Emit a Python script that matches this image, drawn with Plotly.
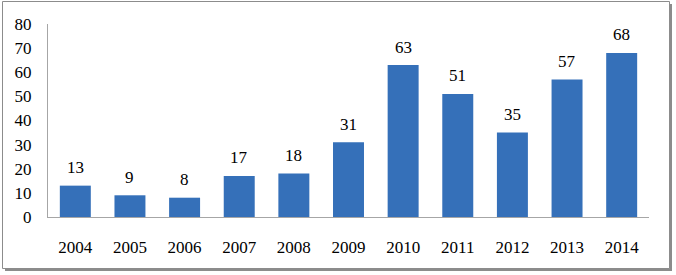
import plotly.graph_objects as go

years = ["2004", "2005", "2006", "2007", "2008", "2009", "2010", "2011", "2012", "2013", "2014"]
counts = [13, 9, 8, 17, 18, 31, 63, 51, 35, 57, 68]
y_ticks = [0, 10, 20, 30, 40, 50, 60, 70, 80]

W, H = 676, 275
ML, MR, MT, MB = 48, 27, 24, 58
PW, PH = W - ML - MR, H - MT - MB

def px(x):
    return (x - ML) / PW

def py(y):
    return (H - MB - y) / PH

FONT = dict(family="Liberation Serif, Times New Roman, serif", size=17, color="#000000")

fig = go.Figure()
fig.add_trace(go.Bar(
    x=years, y=counts,
    marker=dict(color="#3570B9", line=dict(width=0)),
    hoverinfo="x+y",
))

for i, c in enumerate(counts):
    fig.add_annotation(x=i, y=c, xref="x", yref="y", text=str(c), showarrow=False,
                       yanchor="middle", yshift=18, font=FONT)

# outer frame with shadow
fig.add_shape(type="rect", xref="paper", yref="paper",
              x0=px(5), x1=px(672), y0=py(4), y1=py(271),
              fillcolor="#8C8C8C", line=dict(width=0), layer="below")
fig.add_shape(type="rect", xref="paper", yref="paper",
              x0=px(2.5), x1=px(669.5), y0=py(1.5), y1=py(268.5),
              fillcolor="#FFFFFF", line=dict(color="#8C8C8C", width=1), layer="below")

fig.update_layout(
    width=W, height=H,
    margin=dict(l=ML, r=MR, t=MT, b=MB),
    paper_bgcolor="#FFFFFF", plot_bgcolor="rgba(0,0,0,0)",
    bargap=0.433, showlegend=False, font=FONT,
    xaxis=dict(type="category", range=[-0.5, len(years) - 0.5], showgrid=False,
               showline=True, linecolor="#A6A6A6",
               linewidth=1, ticks="", tickfont=FONT, ticklabelstandoff=15,
               fixedrange=True, zeroline=False),
    yaxis=dict(range=[0, 80], tickvals=y_ticks, ticktext=[str(v) for v in y_ticks],
               showgrid=False, showline=True, linecolor="#A6A6A6", linewidth=1,
               ticks="", tickfont=FONT, ticklabelstandoff=12, zeroline=False,
               fixedrange=True),
)

fig.write_html("out.html", config={"displayModeBar": False},
               post_script="document.body.style.margin='0';")
